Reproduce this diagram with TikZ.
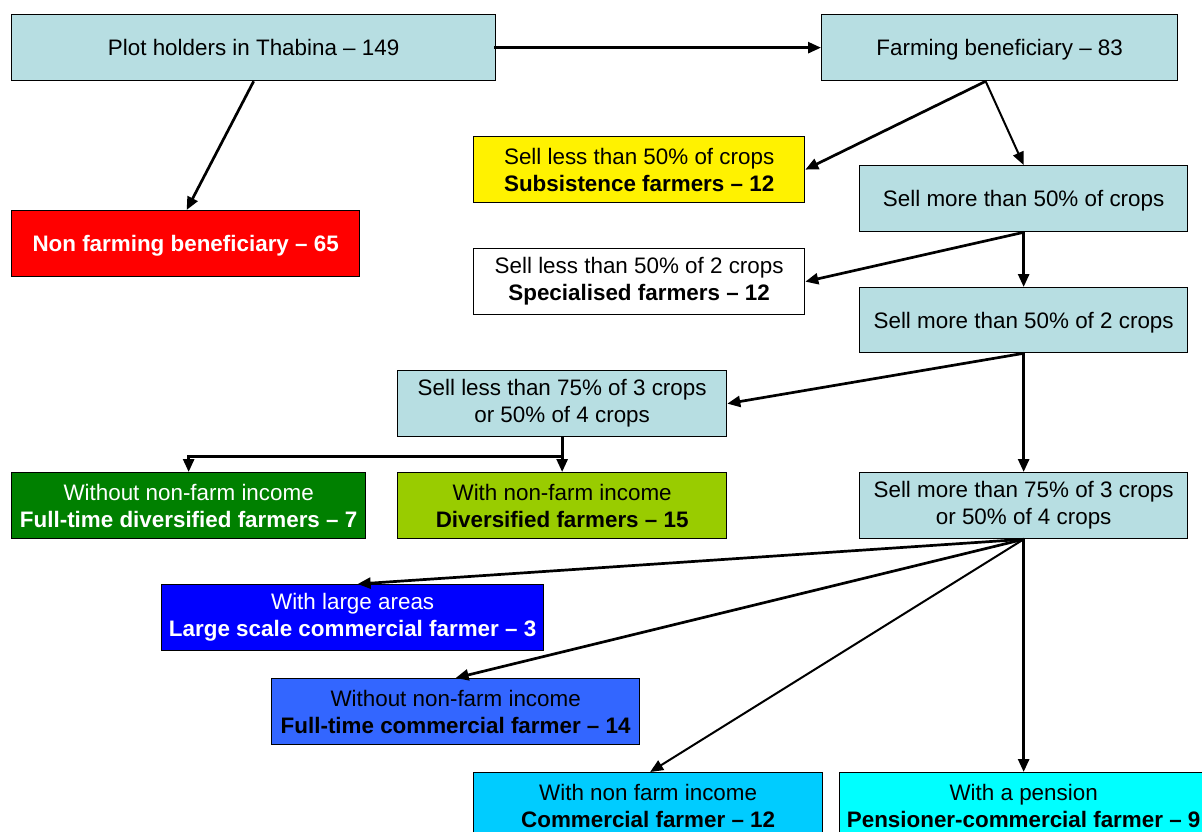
\documentclass[tikz,border=0pt]{standalone}
\usepackage{fontspec}
\setmainfont{Liberation Sans}
\usetikzlibrary{arrows.meta}
\definecolor{pale}{RGB}{183,222,226}
\definecolor{ygreen}{RGB}{153,204,0}
\definecolor{dgreen}{RGB}{0,128,0}
\definecolor{mblue}{RGB}{51,102,255}
\definecolor{sky}{RGB}{0,204,255}
\definecolor{aqua}{RGB}{0,255,255}
\tikzset{
  box/.style={draw=black, line width=1.3pt, rectangle, inner sep=0pt, align=center,
    anchor=north west, font=\fontsize{22.4}{27}\selectfont},
  conn/.style={line width=2.7pt, -{Triangle[length=13pt,width=11pt]}},
  thinconn/.style={line width=2pt, -{Triangle[length=13pt,width=11pt]}},
}
\newcommand{\bx}[7]{% name, x1, y1, x2, y2, fill, text
  \node[box, fill=#6, minimum width={(#4-#2)*1pt}, minimum height={(#5-#3)*1pt}] (#1) at (#2,#3) {#7};}
\newcommand{\dn}[1]{\raisebox{-2.5pt}[\height][\depth]{#1}}
\begin{document}
\begin{tikzpicture}[x=1pt,y=-1pt]
\useasboundingbox (0,0) rectangle (1202,832);
\clip (0,0) rectangle (1202,832);
\fill[white] (0,0) rectangle (1202,832);
\bx{plot}{11}{14}{495}{80}{pale}{Plot holders in Thabina -- 149}
\bx{farm}{821}{14}{1177}{80}{pale}{\dn{Farming beneficiary -- 83}}
\bx{nonfarm}{11}{210}{359}{276}{red}{\textcolor{white}{\bfseries \dn{Non farming beneficiary -- 65}}}
\bx{subs}{473}{136}{804}{202}{yellow}{Sell less than 50\% of crops\\\bfseries Subsistence farmers -- 12}
\bx{sellA}{859}{165}{1187}{231}{pale}{\dn{Sell more than 50\% of crops}}
\bx{spec}{473}{248}{804}{314}{white}{Sell less than 50\% of 2 crops\\\bfseries Specialised farmers -- 12}
\bx{sellB}{859}{287}{1187}{352}{pale}{\dn{Sell more than 50\% of 2 crops}}
\bx{sellC}{397}{370}{726}{436}{pale}{Sell less than 75\% of 3 crops\\or 50\% of 4 crops}
\bx{ftdiv}{11}{472}{365}{538}{dgreen}{\color{white}Without non-farm income\\\color{white}\bfseries Full-time diversified farmers -- 7}
\bx{div}{397}{472}{726}{538}{ygreen}{With non-farm income\\\bfseries Diversified farmers -- 15}
\bx{sellD}{859}{472}{1187}{538}{pale}{Sell more than 75\% of 3 crops\\or 50\% of 4 crops}
\bx{large}{161}{584}{543}{650}{blue}{\color{white}With large areas\\\color{white}\bfseries Large scale commercial farmer -- 3}
\bx{ftcom}{271}{678}{639}{744}{mblue}{Without non-farm income\\\bfseries Full-time commercial farmer -- 14}
\bx{com}{473}{772}{822}{838}{sky}{With non farm income\\\bfseries Commercial farmer -- 12}
\bx{pens}{839}{772}{1207}{838}{aqua}{With a pension\\\bfseries Pensioner-commercial farmer -- 9}
% connectors
\draw[conn] ([xshift=-2pt]plot.east) -- (farm.west);
\draw[conn] (plot.south) -- ([xshift=1pt]nonfarm.north);
\coordinate (fs) at ([xshift=-14pt]farm.south);
\draw[conn] (fs) -- (subs.east);
\draw[thinconn] (fs) -- (sellA.north);
\draw[conn] (sellA.south) -- (spec.east);
\draw[conn] (sellA.south) -- (sellB.north);
\draw[conn] (sellB.south) -- (sellC.east);
\draw[conn] (sellB.south) -- (sellD.north);
\coordinate (j) at ([yshift=-19pt]sellC.south);
\draw[line width=2.7pt] (sellC.south) -- (j);
\draw[conn] (j) -- (j -| ftdiv.north) -- (ftdiv.north);
\draw[conn] (j) -- (div.north);
\draw[conn] (sellD.south) -- ([xshift=5pt]large.north);
\draw[conn] (sellD.south) -- (ftcom.north);
\draw[thinconn] (sellD.south) -- ([xshift=2pt]com.north);
\draw[conn] (sellD.south) -- (pens.north);
\end{tikzpicture}
\end{document}
